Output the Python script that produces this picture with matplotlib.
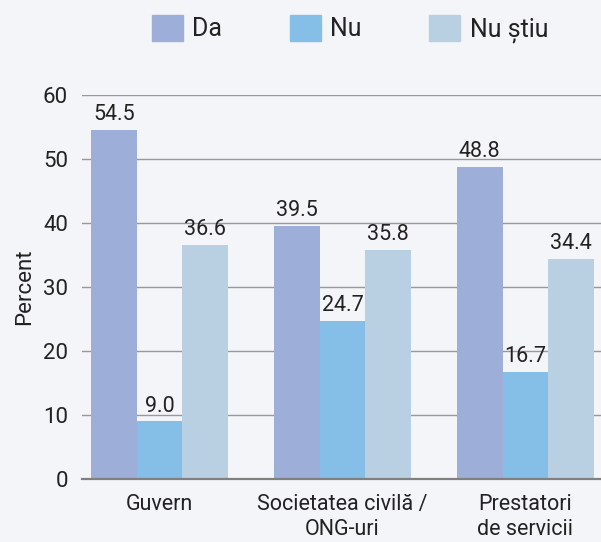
import numpy as np
import matplotlib.pyplot as plt
from matplotlib.patches import Patch

# data
categories = ["Guvern", "Societatea civilă /\nONG-uri", "Prestatori\nde servicii"]
series = ["Da", "Nu", "Nu știu"]
da = [54.5, 39.5, 48.8]
nu = [9.0, 24.7, 16.7]
nu_stiu = [36.6, 35.8, 34.4]
colors = ["#9daed8", "#85bee6", "#b9d0e3"]

plt.rcParams['font.family'] = ['Roboto', 'DejaVu Sans']
bg = "#f4f5f9"
txt = "#222222"

fig = plt.figure(figsize=(6.01, 5.42), dpi=100, facecolor=bg)
ax = fig.add_axes([82/601, 1-479/542, 1-82/601, (479-95)/542], facecolor=bg)

x = np.arange(len(categories))
w = 0.25
for i, (vals, name) in enumerate(zip([da, nu, nu_stiu], series)):
    bars = ax.bar(x + (i-1)*w, vals, w, color=colors[i], label=name, zorder=2)
    ax.bar_label(bars, labels=["%.1f" % v for v in vals], padding=3.5,
                 fontsize=15.5, color=txt, zorder=3)

ax.set_xlim(-0.4235, 2.413)
ax.set_ylim(0, 60)
ax.set_yticks(range(0, 61, 10))
ax.set_xticks(x)
ax.set_xticklabels(categories, fontsize=15.5, color=txt, linespacing=1.25)
ax.tick_params(axis='y', length=0, pad=10, labelsize=16, labelcolor=txt)
ax.tick_params(axis='x', length=0, pad=11)
ax.yaxis.grid(True, color="#999999", lw=1, zorder=0)
ax.set_axisbelow(True)
for s in ["top", "right", "left"]:
    ax.spines[s].set_visible(False)
ax.spines["bottom"].set_color("#808080")
ax.spines["bottom"].set_linewidth(1.6)
ax.spines["bottom"].set_zorder(4)
ax.set_ylabel("Percent", fontsize=16, color=txt, labelpad=6)

handles = [Patch(color=c, label=s) for c, s in zip(colors, series)]
fig.legend(handles=handles, loc="upper center", bbox_to_anchor=(350/601, 1-2/542),
           ncol=3, frameon=False, fontsize=18, handlelength=1.24, handleheight=1.24,
           handletextpad=0.38, columnspacing=2.7, labelcolor=txt, borderpad=0)

fig.savefig("out.png", dpi=100, facecolor=bg)
